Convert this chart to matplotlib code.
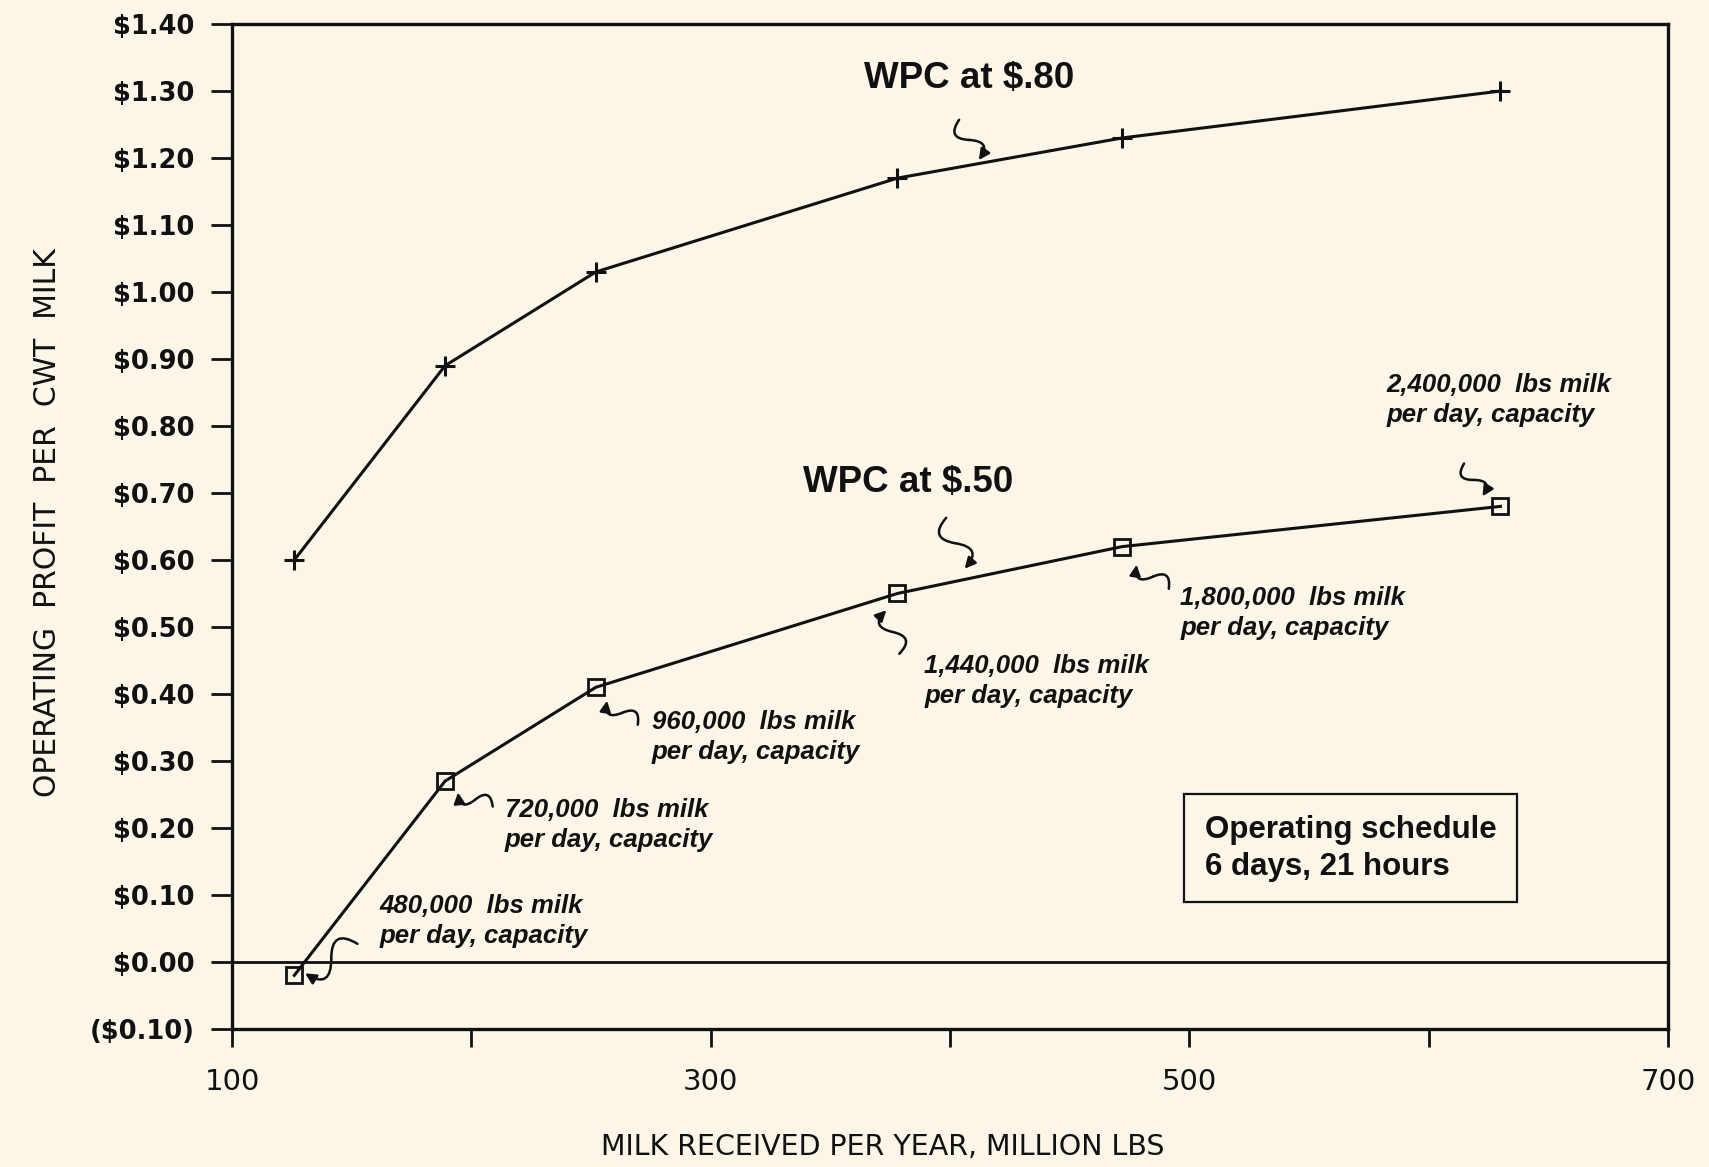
import numpy as np
import matplotlib
matplotlib.use("Agg")
import matplotlib.pyplot as plt
from matplotlib.ticker import FuncFormatter, MultipleLocator

# milk received per year (million lbs) for each plant size
milk_per_year = [126, 189, 252, 378, 472, 630]
profit_wpc_80 = [0.60, 0.89, 1.03, 1.17, 1.23, 1.30]
profit_wpc_50 = [-0.02, 0.27, 0.41, 0.55, 0.62, 0.68]

capacity_labels = ["480,000", "720,000", "960,000", "1,440,000", "1,800,000", "2,400,000"]

BG = "#FBF6E8"
INK = "#111111"
NOTE_FONT = ["Liberation Sans", "DejaVu Sans"]


def money(v, pos=None):
    if v < -1e-9:
        return f"(${abs(v):.2f})"
    return f"${abs(v):.2f}"


def squiggle(ax, tail, tip, rad=0.9):
    # hand-drawn looking S shaped pointer: two opposite arcs
    mid = ((tail[0] + tip[0]) / 2, (tail[1] + tip[1]) / 2)
    ax.annotate("", xy=mid, xytext=tail,
                arrowprops=dict(arrowstyle="-", color=INK, lw=1.8,
                                connectionstyle=f"arc3,rad={rad}",
                                shrinkA=0, shrinkB=0))
    ax.annotate("", xy=tip, xytext=mid,
                arrowprops=dict(arrowstyle="-|>", color=INK, lw=1.8,
                                mutation_scale=16,
                                connectionstyle=f"arc3,rad={-rad}",
                                shrinkA=0, shrinkB=0))


fig = plt.figure(figsize=(17.09, 11.67), dpi=100, facecolor=BG)
ax = fig.add_axes([0.1358, 0.1183, 0.8402, 0.8611], facecolor=BG)

ax.plot(milk_per_year, profit_wpc_80, color=INK, lw=2.2, marker="+",
        markersize=15, markeredgewidth=2.2)
ax.plot(milk_per_year, profit_wpc_50, color=INK, lw=2.2, marker="s",
        markersize=12, markerfacecolor="none", markeredgewidth=2)
ax.axhline(0, color=INK, lw=2)

ax.set_xlim(100, 700)
ax.set_ylim(-0.1, 1.4)

ax.xaxis.set_major_locator(MultipleLocator(100))
ax.xaxis.set_major_formatter(FuncFormatter(
    lambda v, p: f"{int(round(v))}" if int(round(v)) % 200 == 100 else ""))
ax.yaxis.set_major_locator(MultipleLocator(0.1))
ax.yaxis.set_major_formatter(FuncFormatter(money))

for s in ax.spines.values():
    s.set_linewidth(2.4)
    s.set_color(INK)

ax.tick_params(axis="y", direction="out", length=15, width=2, pad=12,
               labelsize=18.5, colors=INK)
ax.tick_params(axis="x", direction="out", length=13, width=2, pad=15,
               labelsize=21, colors=INK)
for lab in ax.get_yticklabels():
    lab.set_fontweight("bold")

fig.text(0.028, 0.552, "OPERATING  PROFIT  PER  CWT  MILK", rotation=90,
         ha="center", va="center", fontsize=21.5, color=INK)
fig.text(0.5165, 0.0055, "MILK RECEIVED PER YEAR, MILLION LBS",
         ha="center", va="bottom", fontsize=20.5, color=INK)

# series labels
ax.text(408, 1.319, "WPC at $.80", ha="center", va="center", fontsize=26.5,
        fontweight="bold", family=NOTE_FONT, color=INK)
squiggle(ax, (403.8, 1.257), (412, 1.197))
ax.text(382.5, 0.715, "WPC at $.50", ha="center", va="center", fontsize=26.5,
        fontweight="bold", family=NOTE_FONT, color=INK)
squiggle(ax, (398.4, 0.663), (406.1, 0.587))

# capacity notes: text anchor (left, middle) and pointer tail -> tip
note_pos = [(161.6, 0.061), (214, 0.204), (275.4, 0.336),
            (389.3, 0.419), (496.3, 0.521), (582.4, 0.839)]
tails = [(152.4, 0.027), (208.9, 0.232), (269.5, 0.354),
         (378.8, 0.460), (491.4, 0.557), (614.8, 0.744)]
tips = [(130.5, -0.017), (194.4, 0.253), (256.7, 0.390),
        (373.4, 0.525), (478.0, 0.593), (622.5, 0.695)]

for lab, pos, tl, tp in zip(capacity_labels, note_pos, tails, tips):
    ax.text(pos[0], pos[1], f"{lab}  lbs milk\nper day, capacity",
            ha="left", va="center", fontsize=18.5, fontweight="bold",
            fontstyle="italic", family=NOTE_FONT, color=INK,
            linespacing=1.3)
    squiggle(ax, tl, tp)

ax.text(567.4, 0.170, "Operating schedule\n6 days, 21 hours",
        ha="center", va="center", multialignment="left", fontsize=22.5,
        fontweight="bold", family=NOTE_FONT, color=INK, linespacing=1.3,
        bbox=dict(boxstyle="square,pad=0.65", facecolor=BG, edgecolor=INK,
                  lw=1.6))

fig.savefig("out.png", dpi=100, facecolor=BG)
